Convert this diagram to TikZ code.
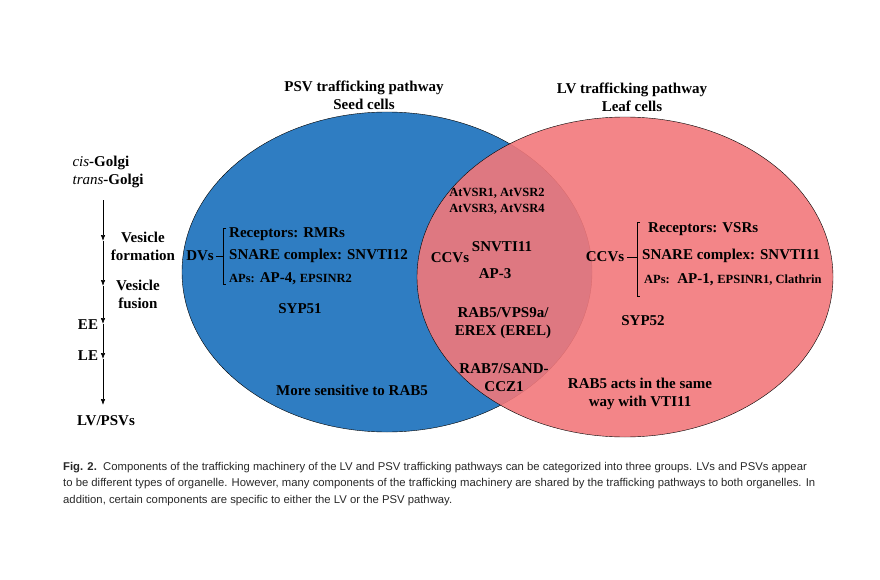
\documentclass[tikz,border=0pt]{standalone}
\usepackage{fontspec}
\usetikzlibrary{arrows.meta}
\setmainfont{Liberation Serif}
\newfontfamily\capfont{Liberation Sans}
\definecolor{seedblue}{RGB}{47,125,194}
\definecolor{leafpink}{RGB}{242,120,123}
\definecolor{captxt}{RGB}{40,40,40}
\newcommand\smtxt{\fontsize{12.5}{15}\selectfont}
\begin{document}
\begin{tikzpicture}[x=1pt,y=-1pt,
    lbl/.style={font=\fontsize{15}{18}\selectfont\bfseries,inner sep=0pt,align=center},
    smlbl/.style={font=\smtxt\bfseries,inner sep=0pt,align=center},
    caption/.style={font=\capfont\fontsize{11.3}{14}\selectfont,text=captxt,inner sep=0pt,anchor=base west},
    stage/.style={->,>={Latex[length=6pt,width=4.5pt]},semithick}]
        \useasboundingbox (0,0) rectangle (880,580) ;
        %\draw[very thin,gray,step=20] (0,0) grid (880,580) ;
        % the two pathways
        \draw[fill=seedblue] (387,272) ellipse [x radius=205,y radius=160] ;
        \draw[fill=leafpink,fill opacity=0.9] (625,277) ellipse [x radius=208,y radius=160] ;
        \node[lbl] (psv) at (364,95) {PSV trafficking pathway\\Seed cells} ;
        \node[lbl] (lv) at (632,97) {LV trafficking pathway\\Leaf cells} ;
        % route from the Golgi
        \node[lbl,align=left] (golgi) at (108,172) {\textit{\mdseries cis}-Golgi\\\textit{\mdseries trans}-Golgi} ;
        \coordinate (s0) at (103,200) ;
        \coordinate (s1) at (103,241) ;
        \coordinate (s2) at (103,286) ;
        \coordinate (s3) at (103,324) ;
        \coordinate (s4) at (103,359) ;
        \coordinate (s5) at (103,405) ;
        \node[lbl] (lvpsv) at (106,421) {LV/PSVs} ;
        \draw[stage] (s0) -- (s1) ;
        \draw[stage] (s1) -- (s2) ;
        \draw[stage] (s2) -- (s3) ;
        \draw[stage] (s3) -- (s4) ;
        \draw[stage] (s4) -- (s5) ;
        \node[lbl] (form) at (143,246) {Vesicle\\formation} ;
        \node[lbl] (fus) at (138,294) {Vesicle\\fusion} ;
        \node[lbl] (ee) at (88,325) {EE} ;
        \node[lbl] (le) at (88,356) {LE} ;
        % seed side
        \node[lbl] (dvs) at (200,256) {DVs} ;
        \coordinate (dvbr) at (223,256) ;
        \draw (dvs.east) ++(2,0) -- (dvbr) ;
        \draw (226,228) -- (223,228) -- (223,284) -- (226,284) ;
        \node[lbl,anchor=west] (rmr) at (229,234) {Receptors: RMRs} ;
        \node[lbl,anchor=west] (snv12) at (229,256) {SNARE complex: SNVTI12} ;
        \node[lbl,anchor=west] (ap4) at (229,279) {{\smtxt APs:} AP-4, {\smtxt EPSINR2}} ;
        \node[lbl] (syp51) at (300,309) {SYP51} ;
        \node[lbl] (rab5s) at (352,390) {More sensitive to RAB5} ;
        % shared part
        \node[smlbl,font=\fontsize{12.5}{16}\selectfont\bfseries] (vsr) at (497,201) {AtVSR1, AtVSR2\\AtVSR3, AtVSR4} ;
        \node[lbl] (ccv1) at (450,258) {CCVs} ;
        \node[lbl] (snv11a) at (502,247) {SNVTI11} ;
        \node[lbl] (ap3) at (495,274) {AP-3} ;
        \node[lbl] (rab5v) at (503,323) {RAB5/VPS9a/\\EREX (EREL)} ;
        \node[lbl] (rab7) at (504,378) {RAB7/SAND-\\CCZ1} ;
        % leaf side
        \node[lbl] (ccv2) at (605,257) {CCVs} ;
        \coordinate (ccbr) at (637,257) ;
        \draw (ccv2.east) ++(3,0) -- (ccbr) ;
        \draw (640,222) -- (637,222) -- (637,296) -- (640,296) ;
        \node[lbl,anchor=west] (vsrs) at (648,229) {Receptors: VSRs} ;
        \node[lbl,anchor=west] (snv11b) at (642,256) {SNARE complex: SNVTI11} ;
        \node[lbl,anchor=west] (ap1) at (644,280) {{\smtxt APs:}\ \ AP-1, {\smtxt EPSINR1, Clathrin}} ;
        \node[lbl] (syp52) at (643,321) {SYP52} ;
        \node[lbl] (rab5l) at (640,394) {RAB5 acts in the same\\way with VTI11} ;
        % legend below
        \node[caption] (cap1) at (63,470) {\textbf{Fig. 2.}\ \ Components of the trafficking machinery of the LV and PSV trafficking pathways can be categorized into three groups. LVs and PSVs appear} ;
        \node[caption] (cap2) at (63,486.5) {to be different types of organelle. However, many components of the trafficking machinery are shared by the trafficking pathways to both organelles. In} ;
        \node[caption] (cap3) at (63,503) {addition, certain components are specific to either the LV or the PSV pathway.} ;
      \end{tikzpicture}
\end{document}
